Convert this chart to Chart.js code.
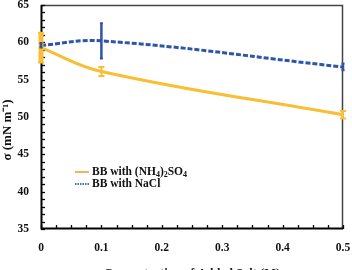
<!DOCTYPE html>
<html>
<head>
<meta charset="utf-8">
<script src="https://cdn.jsdelivr.net/npm/chart.js@4.4.0/dist/chart.umd.min.js"></script>
<style>
html,body{margin:0;padding:0;background:#fff;}
canvas{display:block;}
</style>
</head>
<body>
<canvas id="c" width="352" height="270"></canvas>
<script>
// ---- data ----
const concentrations = [0, 0.1, 0.5];
const sulfateValues = [59.3, 56.1, 50.3];
const sulfateErrors = [2.0, 0.6, 0.5];
const naclValues = [59.6, 60.2, 56.7];
const naclErrors = [0.3, 2.35, 0.45];
const seriesLabels = ['BB with (NH4)2SO4', 'BB with NaCl'];
const xTickValues = [0, 0.1, 0.2, 0.3, 0.4, 0.5];
const yTickValues = [35, 40, 45, 50, 55, 60, 65];
const xTitle = 'Concentration of Added Salt (M)';
const yTitle = 'σ (mN m⁻¹)';

const YELLOW = '#F9BE34';
const BLUE = '#2F55A5';
const SERIF = "'Liberation Serif', 'Times New Roman', serif";

function pts(xs, ys) { return xs.map((x, i) => ({x: x, y: ys[i]})); }
function zeroPad(s) { s.paddingTop = 0; s.paddingBottom = 0; s.paddingLeft = 0; s.paddingRight = 0; }

const decorPlugin = {
  id: 'decor',
  beforeDatasetsDraw(chart) {
    const {ctx, chartArea: a, scales: {x, y}} = chart;
    ctx.save();
    ctx.strokeStyle = '#444';
    ctx.lineWidth = 1.5;
    ctx.beginPath();
    ctx.moveTo(a.left, a.top + 0.5); ctx.lineTo(a.right - 0.5, a.top + 0.5); ctx.lineTo(a.right - 0.5, a.bottom);
    ctx.stroke();
    ctx.strokeStyle = '#000';
    ctx.lineWidth = 2;
    ctx.beginPath();
    ctx.moveTo(a.left + 0.5, a.top); ctx.lineTo(a.left + 0.5, a.bottom - 0.5); ctx.lineTo(a.right, a.bottom - 0.5);
    ctx.stroke();
    ctx.lineWidth = 1.3;
    for (let v = y.min; v <= y.max + 1e-9; v += 1) {
      const py = Math.round(y.getPixelForValue(v)) + 0.5;
      ctx.beginPath(); ctx.moveTo(a.left, py); ctx.lineTo(a.left + 4, py); ctx.stroke();
    }
    for (let v = x.min; v <= x.max + 1e-9; v += 0.025) {
      const px = Math.round(x.getPixelForValue(v)) + 0.5;
      ctx.beginPath(); ctx.moveTo(px, a.bottom); ctx.lineTo(px, a.bottom - 4); ctx.stroke();
    }
    ctx.restore();
  },
  afterDatasetsDraw(chart) {
    const {ctx, scales: {x, y}} = chart;
    ctx.save();
    chart.data.datasets.forEach((ds) => {
      const errs = ds.errors;
      if (!errs) return;
      ctx.strokeStyle = ds.borderColor;
      ds.data.forEach((p, i) => {
        const px = x.getPixelForValue(p.x);
        const t = y.getPixelForValue(p.y + errs[i]);
        const b = y.getPixelForValue(p.y - errs[i]);
        ctx.lineWidth = (i === 0 && ds.edgeBarWidth) ? ds.edgeBarWidth : ds.barWidth;
        ctx.beginPath(); ctx.moveTo(px, t); ctx.lineTo(px, b); ctx.stroke();
        ctx.lineWidth = 2;
        ctx.beginPath();
        ctx.moveTo(px - ds.capHalf, t); ctx.lineTo(px + ds.capHalf, t);
        ctx.moveTo(px - ds.capHalf, b); ctx.lineTo(px + ds.capHalf, b);
        ctx.stroke();
      });
    });
    ctx.restore();
  },
  afterDraw(chart) {
    const {ctx} = chart;
    ctx.save();
    const items = [
      {label: chart.data.datasets[0].label, color: '#F5B062', dash: [], y: 172},
      {label: chart.data.datasets[1].label, color: '#4A6CC0', dash: [1.5, 1], y: 184}
    ];
    items.forEach(it => {
      ctx.strokeStyle = it.color;
      ctx.lineWidth = 2;
      ctx.setLineDash(it.dash);
      ctx.beginPath(); ctx.moveTo(75, it.y); ctx.lineTo(89, it.y); ctx.stroke();
      ctx.setLineDash([]);
      ctx.fillStyle = '#111';
      ctx.textBaseline = 'middle';
      let tx = 92;
      const s = it.label;
      const subAt = (k) => /[0-9]/.test(s[k]) && k > 0 && /[A-Za-z)]/.test(s[k - 1]);
      let i = 0;
      while (i < s.length) {
        if (subAt(i)) {
          ctx.font = 'bold 8px ' + SERIF;
          ctx.fillText(s[i], tx, it.y + 3);
          tx += ctx.measureText(s[i]).width;
          i++;
        } else {
          let j = i;
          while (j < s.length && !subAt(j)) j++;
          const part = s.slice(i, j);
          ctx.font = 'bold 11.5px ' + SERIF;
          ctx.fillText(part, tx, it.y);
          tx += ctx.measureText(part).width;
          i = j;
        }
      }
    });
    ctx.restore();
  }
};

new Chart(document.getElementById('c'), {
  type: 'line',
  data: {
    datasets: [
      {
        label: seriesLabels[0],
        data: pts(concentrations, sulfateValues),
        errors: sulfateErrors,
        borderColor: YELLOW,
        borderWidth: 3,
        tension: 0.4,
        pointRadius: 0,
        fill: false,
        barWidth: 2,
        edgeBarWidth: 5,
        capHalf: 3
      },
      {
        label: seriesLabels[1],
        data: pts(concentrations, naclValues),
        errors: naclErrors,
        borderColor: BLUE,
        borderWidth: 3,
        borderDash: [5, 2],
        tension: 0.4,
        pointRadius: 0,
        fill: false,
        barWidth: 2.5,
        capHalf: 1.5
      }
    ]
  },
  options: {
    responsive: false,
    animation: false,
    layout: {padding: {left: 0, right: 9, top: 5, bottom: 0}},
    plugins: {legend: {display: false}, tooltip: {enabled: false}},
    scales: {
      x: {
        type: 'linear',
        min: 0, max: 0.5,
        afterBuildTicks: (s) => { s.ticks = xTickValues.map(v => ({value: v})); },
        afterFit: (s) => { s.height = 41; zeroPad(s); },
        grid: {display: false, drawTicks: false},
        border: {display: false},
        ticks: {
          padding: 12,
          color: '#111',
          font: {family: SERIF, size: 11.5, weight: 'bold'},
          maxRotation: 0,
          callback: (v) => String(v)
        },
        title: {
          display: true,
          text: xTitle,
          color: '#222',
          font: {family: SERIF, size: 12.5, weight: 'bold'},
          padding: {top: 0, bottom: -11}
        }
      },
      y: {
        type: 'linear',
        min: 35, max: 65,
        afterBuildTicks: (s) => { s.ticks = yTickValues.map(v => ({value: v})); },
        afterFit: (s) => { s.width = 41; zeroPad(s); },
        grid: {display: false, drawTicks: false},
        border: {display: false},
        ticks: {
          padding: 12,
          color: '#111',
          font: {family: SERIF, size: 11.5, weight: 'bold'}
        },
        title: {
          display: true,
          text: yTitle + '\u00A0\u00A0\u00A0\u00A0\u00A0\u00A0\u00A0\u00A0',
          color: '#111',
          font: {family: SERIF, size: 13, weight: 'bold'},
          padding: {top: 0, bottom: 0}
        }
      }
    }
  },
  plugins: [decorPlugin]
});
</script>
</body>
</html>
